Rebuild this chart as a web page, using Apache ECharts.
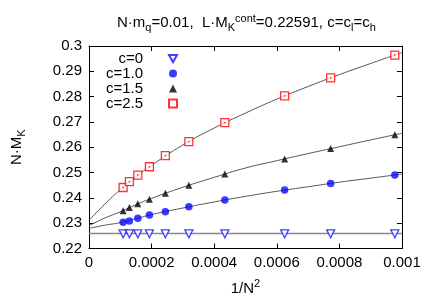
<!DOCTYPE html>
<html>
<head>
<meta charset="utf-8">
<script src="https://cdn.jsdelivr.net/npm/echarts@6/dist/echarts.min.js"></script>
<style>html,body{margin:0;padding:0;background:#fff;}#c{width:429px;height:301px;}</style>
</head>
<body>
<div id="c"></div>
<script>
// 1/N^2 values of the data points
const xVals = [0.000109, 0.000129, 0.000156, 0.000193, 0.000244, 0.000319, 0.000434, 0.000625, 0.000772, 0.000977];
const c0  = [0.2258, 0.2258, 0.2258, 0.2258, 0.2258, 0.2258, 0.2258, 0.2258, 0.2258, 0.2258];
const c10 = [0.2304, 0.2309, 0.2320, 0.2332, 0.2345, 0.2365, 0.2392, 0.2431, 0.2457, 0.2490];
const c15 = [0.2349, 0.2362, 0.2377, 0.2395, 0.2418, 0.2450, 0.2494, 0.2554, 0.2595, 0.2649];
const c25 = [0.2441, 0.2464, 0.2490, 0.2523, 0.2567, 0.2622, 0.2697, 0.2803, 0.2874, 0.2964];
// fit curves
const fitX  = [0, 0.00005, 0.0001, 0.00015, 0.0002, 0.0003, 0.0004, 0.0005, 0.0006, 0.0007, 0.0008, 0.0009, 0.001];
const fit0  = [0.22591, 0.22591, 0.22591, 0.22591, 0.22591, 0.22591, 0.22591, 0.22591, 0.22591, 0.22591, 0.22591, 0.22591, 0.22591];
const fit10 = [0.2279, 0.2292, 0.2302, 0.2318, 0.2334, 0.2360, 0.2384, 0.2406, 0.2426, 0.2444, 0.2462, 0.2478, 0.2494];
const fit15 = [0.2290, 0.2320, 0.2345, 0.2373, 0.2398, 0.2442, 0.2481, 0.2518, 0.2547, 0.2575, 0.2602, 0.2629, 0.2655];
const fit25 = [0.2311, 0.2375, 0.2432, 0.2484, 0.2529, 0.2609, 0.2676, 0.2735, 0.2790, 0.2840, 0.2887, 0.2931, 0.2974];
const names = ['c=0', 'c=1.0', 'c=1.5', 'c=2.5'];

const pairs = (xs, ys) => xs.map((x, i) => [x, ys[i]]);
const FONT = 'Liberation Sans, Arial, Helvetica, sans-serif';

const chart = echarts.init(document.getElementById('c'), null, {renderer: 'canvas'});

const fitLine = (ys, color, w) => ({
  type: 'line', data: pairs(fitX, ys), smooth: true, showSymbol: false, silent: true,
  lineStyle: {color: color, width: w}, z: 1
});

chart.setOption({
  animation: false,
  title: {
    text: '{n|N·m}{sub|q}{n|=0.01,  L·M}{sub|K}{sup|cont}{n|=0.22591, c=c}{sub|l}{n|=c}{sub|h}',
    left: 112, top: 8,
    textStyle: {
      fontFamily: FONT, fontWeight: 'normal', color: '#000',
      rich: {
        n: {fontSize: 15, fontFamily: FONT, color: '#000'},
        sub: {fontSize: 11, fontFamily: FONT, color: '#000', padding: [9, 0, 0, 0]},
        sup: {fontSize: 11, fontFamily: FONT, color: '#000', padding: [0, 0, 9, 0]}
      }
    }
  },
  legend: {
    data: [
      {name: names[0], icon: 'path://M0,0L10,0L5,9Z'},
      {name: names[1], icon: 'circle'},
      {name: names[2], icon: 'triangle'},
      {name: names[3], icon: 'rect'}
    ],
    orient: 'vertical', left: 103, top: 51, align: 'right',
    padding: 0, itemGap: 0, itemWidth: 8, itemHeight: 8,
    textStyle: {fontFamily: FONT, fontSize: 15, color: '#000', width: 40, align: 'right', padding: [0, 21, 0, 0], lineHeight: 15}
  },
  grid: {left: 89, right: 27, top: 46, bottom: 47, containLabel: false},
  xAxis: [{
    type: 'value', min: 0, max: 0.001, interval: 0.0002,
    name: '{n|1/N}{sup|2}', nameLocation: 'middle', nameGap: 30,
    nameTextStyle: {rich: {
      n: {fontSize: 15, fontFamily: FONT, color: '#000'},
      sup: {fontSize: 11, fontFamily: FONT, color: '#000', padding: [0, 0, 9, 0]}
    }},
    axisLine: {show: true, onZero: false, lineStyle: {color: '#000', width: 1}},
    axisTick: {show: true, inside: true, length: 5, lineStyle: {color: '#000'}},
    axisLabel: {fontFamily: FONT, fontSize: 15, color: '#000', margin: 7},
    splitLine: {show: false}
  }, {
    type: 'value', position: 'top', min: 0, max: 0.001, interval: 0.0002,
    axisLine: {show: true, onZero: false, lineStyle: {color: '#000', width: 1}},
    axisTick: {show: true, inside: true, length: 5, lineStyle: {color: '#000'}},
    axisLabel: {show: false}, splitLine: {show: false}
  }],
  yAxis: [{
    type: 'value', min: 0.22, max: 0.3, interval: 0.01,
    name: '{n|N·M}{sub|K}', nameLocation: 'middle', nameGap: 62,
    nameTextStyle: {rich: {
      n: {fontSize: 15, fontFamily: FONT, color: '#000'},
      sub: {fontSize: 11, fontFamily: FONT, color: '#000', padding: [9, 0, 0, 0]}
    }},
    axisLine: {show: true, onZero: false, lineStyle: {color: '#000', width: 1}},
    axisTick: {show: true, inside: true, length: 5, lineStyle: {color: '#000'}},
    axisLabel: {fontFamily: FONT, fontSize: 15, color: '#000', margin: 7},
    splitLine: {show: false}
  }, {
    type: 'value', position: 'right', min: 0.22, max: 0.3, interval: 0.01,
    axisLine: {show: true, onZero: false, lineStyle: {color: '#000', width: 1}},
    axisTick: {show: true, inside: true, length: 5, lineStyle: {color: '#000'}},
    axisLabel: {show: false}, splitLine: {show: false}
  }],
  series: [
    fitLine(fit0, '#888', 1.5),
    fitLine(fit10, '#555', 1),
    fitLine(fit15, '#555', 1),
    fitLine(fit25, '#555', 1),
    {name: names[0], type: 'scatter', data: pairs(xVals, c0), symbol: 'triangle', symbolRotate: 180, symbolSize: 8,
     itemStyle: {color: '#fff', borderColor: '#1010ff', borderWidth: 1.3}, z: 3},
    {name: names[1], type: 'scatter', data: pairs(xVals, c10), symbol: 'circle', symbolSize: 7.5,
     itemStyle: {color: '#0a0aff'}, z: 3},
    {name: names[2], type: 'scatter', data: pairs(xVals, c15), symbol: 'triangle', symbolSize: 7,
     itemStyle: {color: '#000'}, z: 3},
    {name: names[3], type: 'scatter', data: pairs(xVals, c25), symbol: 'rect', symbolSize: 8,
     itemStyle: {color: '#fff', borderColor: '#ff0000', borderWidth: 1.3}, z: 3},
    {type: 'scatter', data: pairs(xVals, c25), symbol: 'rect', symbolSize: 1.5, silent: true,
     itemStyle: {color: '#ff0000'}, z: 4}
  ]
});
</script>
</body>
</html>
